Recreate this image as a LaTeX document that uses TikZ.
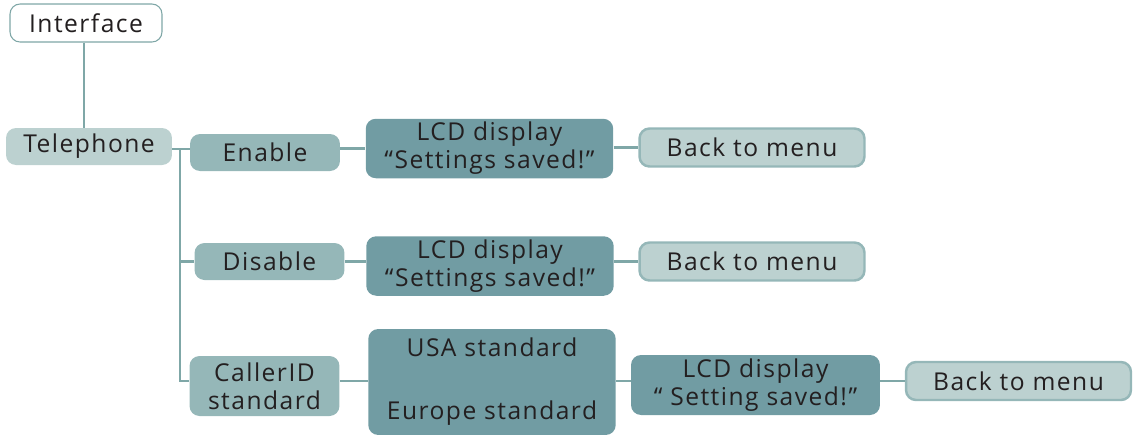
\documentclass[tikz,border=0pt]{standalone}
\usepackage{fontspec}
\setmainfont{Open Sans}[LetterSpace=6]
\definecolor{tealline}{HTML}{7FA7A7}
\definecolor{teallight}{HTML}{BCD1D0}
\definecolor{tealmid}{HTML}{95B7B8}
\definecolor{tealdark}{HTML}{719CA3}
\definecolor{inkdark}{HTML}{231F20}

\begin{document}
\begin{tikzpicture}[x=0.02cm,y=-0.02cm,
  box/.style={rounded corners=0.2cm,inner sep=0pt,align=center,text=inkdark,
    font=\fontsize{14}{16}\selectfont,minimum height=0.74cm},
  topbox/.style={box,draw=tealline,line width=0.6pt,fill=white,minimum width=3.04cm,minimum height=0.76cm},
  lightbox/.style={box,fill=teallight},
  midbox/.style={box,fill=tealmid,minimum width=3cm},
  darkbox/.style={box,fill=tealdark,minimum width=4.95cm,minimum height=1.19cm},
  backbox/.style={box,fill=teallight,draw=tealmid,line width=1.4pt,minimum width=4.5cm,minimum height=0.76cm},
  link/.style={draw=tealline,line width=1.6pt}
]
\useasboundingbox (0,0) rectangle (1133,434);

\node[topbox] (iface) at (86,23) {Interface};
\node[lightbox,minimum width=3.32cm] (phone) at (89,146.5) {Telephone};

\node[midbox] (enable) at (265,152.5) {Enable};
\node[midbox] (disable) at (269.5,261.5) {Disable};
\node[midbox,minimum height=1.2cm] (callerid) at (264.5,386) {CallerID\\standard};

\node[darkbox] (lcdA) at (489.5,148.5) {LCD display\\“Settings saved!”};
\node[darkbox] (lcdB) at (490,266) {LCD display\\“Settings saved!”};
\node[darkbox,minimum height=2.12cm] (region) at (492,382) {USA standard\\[0.7cm]Europe standard};
\node[darkbox,minimum width=4.98cm,minimum height=1.2cm] (lcdC) at (755.5,385) {LCD display\\“ Setting saved!”};

\node[backbox] (backA) at (752,147.5) {Back to menu};
\node[backbox] (backB) at (752,261.5) {Back to menu};
\node[backbox] (backC) at (1018.5,381) {Back to menu};

\coordinate (trunk) at (180,149);
\coordinate (trunkend) at (180,381);

\begin{scope}[on background layer/.try]
\draw[link] (iface.south -| 84,0) -- (phone.north -| 84,0);
\draw[link] (phone.east |- trunk) -- (trunk) -- (trunkend) -- (callerid.west |- trunkend);
\draw[link] (trunk) -- (enable.west |- trunk);
\draw[link] (trunk |- disable) -- (disable.west);
\draw[link] (enable.east |- lcdA) -- (lcdA.west);
\draw[link] (lcdA.east |- backA) -- (backA.west);
\draw[link] (disable.east) -- (lcdB.west |- disable);
\draw[link] (lcdB.east |- backB) -- (backB.west);
\draw[link] (callerid.east |- trunkend) -- (region.west |- trunkend);
\draw[link] (region.east |- trunkend) -- (lcdC.west |- trunkend);
\draw[link] (lcdC.east |- backC) -- (backC.west);
\end{scope}
\end{tikzpicture}
\end{document}
